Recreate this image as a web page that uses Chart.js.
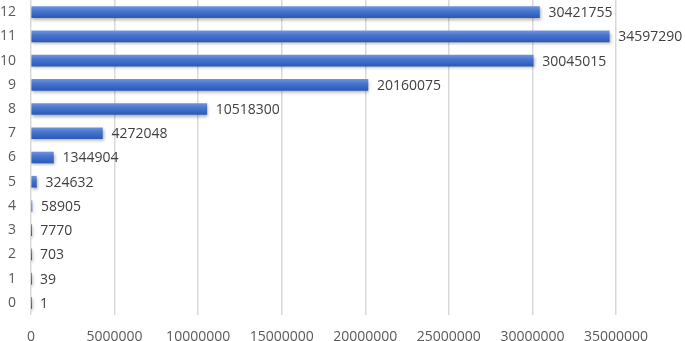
<!DOCTYPE html>
<html>
<head>
<meta charset="utf-8">
<script src="https://cdn.jsdelivr.net/npm/chart.js@4"></script>
<style>
  html, body { margin: 0; padding: 0; background: #fff; }
  #wrap { width: 685px; height: 341px; position: relative; }
</style>
</head>
<body>
<div id="wrap"><canvas id="chart"></canvas></div>
<script>
// categories listed top to bottom, as drawn
const categories = ['12', '11', '10', '9', '8', '7', '6', '5', '4', '3', '2', '1', '0'];
const values = [30421755, 34597290, 30045015, 20160075, 10518300, 4272048, 1344904, 324632, 58905, 7770, 703, 39, 1];
const xMax = 35000000;
const xStep = 5000000;

const FONT = '"Open Sans", "DejaVu Sans", sans-serif';
const BAR_H = 11;

// bar gradient + soft shadow, like the office chart
const barShadow = {
    id: 'barShadow',
    beforeDatasetsDraw(chart) {
        const ctx = chart.ctx;
        ctx.save();
        ctx.shadowColor = 'rgba(0, 0, 0, 0.3)';
        ctx.shadowBlur = 3;
        ctx.shadowOffsetX = 1;
        ctx.shadowOffsetY = 2;
    },
    afterDatasetsDraw(chart) {
        chart.ctx.restore();
    }
};

// value labels to the right of each bar
const valueLabels = {
    id: 'valueLabels',
    afterDatasetsDraw(chart) {
        const ctx = chart.ctx;
        const meta = chart.getDatasetMeta(0);
        ctx.save();
        ctx.font = '14px ' + FONT;
        ctx.fillStyle = '#404040';
        ctx.textAlign = 'left';
        ctx.textBaseline = 'middle';
        meta.data.forEach((bar, i) => {
            ctx.fillText(String(values[i]), bar.x + 9, bar.y + 1);
        });
        ctx.restore();
    }
};

function barFill(context) {
    const chart = context.chart;
    const yScale = chart.scales && chart.scales.y;
    if (!chart.chartArea || !yScale) return '#4472C4';
    const y = yScale.getPixelForValue(context.dataIndex);
    if (!isFinite(y)) return '#4472C4';
    const g = chart.ctx.createLinearGradient(0, y - BAR_H / 2, 0, y + BAR_H / 2);
    g.addColorStop(0, '#6f93dc');
    g.addColorStop(0.35, '#4a77d0');
    g.addColorStop(1, '#2d59b8');
    return g;
}

new Chart(document.getElementById('chart'), {
    type: 'bar',
    data: {
        labels: categories,
        datasets: [{
            data: values,
            backgroundColor: barFill,
            borderWidth: 0,
            barThickness: BAR_H
        }]
    },
    options: {
        indexAxis: 'y',
        responsive: true,
        maintainAspectRatio: false,
        animation: false,
        layout: { padding: { left: 0, right: 69, top: 0, bottom: 0 } },
        plugins: {
            legend: { display: false },
            tooltip: { enabled: false }
        },
        scales: {
            x: {
                min: 0,
                max: xMax,
                ticks: {
                    stepSize: xStep,
                    padding: 14,
                    color: '#595959',
                    font: { family: FONT, size: 14 },
                    maxRotation: 0,
                    callback: v => String(v)
                },
                grid: { color: '#d9d9d9', lineWidth: 1.5, drawTicks: false },
                border: { display: false },
                afterFit: s => {
                    s.height = 26;
                    s.paddingLeft = 0;
                    s.paddingRight = 0;
                }
            },
            y: {
                ticks: {
                    padding: 15,
                    color: '#595959',
                    font: { family: FONT, size: 14 }
                },
                grid: { display: false, drawTicks: false },
                border: { display: false },
                afterFit: s => {
                    s.width = 31;
                    s.paddingTop = 0;
                    s.paddingBottom = 0;
                }
            }
        }
    },
    plugins: [barShadow, valueLabels]
});
</script>
</body>
</html>
